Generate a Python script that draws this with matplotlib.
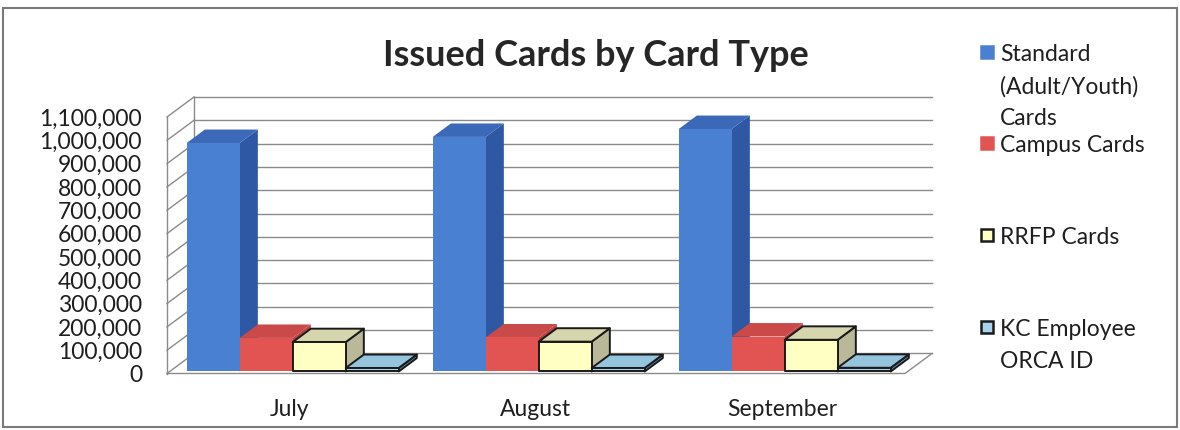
import matplotlib
matplotlib.use("Agg")
import matplotlib.pyplot as plt
from matplotlib.patches import Polygon, Rectangle
from matplotlib.ticker import FuncFormatter

# data
months = ["July", "August", "September"]
series = ["Standard\n(Adult/Youth)\nCards", "Campus Cards", "RRFP Cards", "KC Employee\nORCA ID"]
standard = [980000, 1006000, 1040000]
campus = [144000, 146000, 150000]
rrfp = [126000, 128000, 136000]
kc_employee = [15000, 15000, 16000]
values = [standard, campus, rrfp, kc_employee]

# face colours per series: front, top, side
front_cols = ["#4a80d2", "#e25452", "#ffffc4", "#a9d3ea"]
top_cols = ["#3c68b8", "#c94a48", "#d6d6ae", "#94c4de"]
side_cols = ["#2f58a4", "#b84240", "#b9b999", "#5f90ad"]
edge_cols = ["none", "none", "#1a1a1a", "#1a1a1a"]

YMAX = 1100000
DX, DY = 0.11, 86000      # depth of the floor in data units
F0, F1 = 0.1, 0.77        # front/back of the columns as depth fractions
BW = 0.2154               # column width

plt.rcParams["font.family"] = ["Lato", "DejaVu Sans"]

fig = plt.figure(figsize=(11.8, 4.3), dpi=100)
W, H = 1180, 430
ax = fig.add_axes([167 / W, (H - 373.5) / H, 738 / W, (373.5 - 117) / H])
ax.set_xlim(-0.5, 2.5)
ax.set_ylim(0, YMAX)
for s in ax.spines.values():
    s.set_visible(False)

grid_kw = dict(color="#8a8a8a", lw=1.0, clip_on=False, zorder=1)
x0, x1 = -0.5, 2.5
ticks = list(range(0, YMAX + 1, 100000))
for v in ticks:
    # back wall gridline and side wall diagonal
    ax.plot([x0 + DX, x1 + DX], [v + DY, v + DY], **grid_kw)
    ax.plot([x0, x0 + DX], [v, v + DY], **grid_kw)
ax.plot([x0, x0], [0, YMAX], **grid_kw)
ax.plot([x0 + DX, x0 + DX], [DY, YMAX + DY], **grid_kw)
# floor edges
ax.plot([x0, x1, x1 + DX], [0, 0, DY], **grid_kw)


def pt(x, v, d):
    return (x + d * DX, v + d * DY)


def column(x, v, k):
    xa, xb = x, x + BW
    ec = edge_cols[k]
    lw = 1.4 if ec != "none" else 0
    faces = [
        ([pt(xb, 0, F0), pt(xb, 0, F1), pt(xb, v, F1), pt(xb, v, F0)], side_cols[k]),
        ([pt(xa, v, F0), pt(xb, v, F0), pt(xb, v, F1), pt(xa, v, F1)], top_cols[k]),
        ([pt(xa, 0, F0), pt(xb, 0, F0), pt(xb, v, F0), pt(xa, v, F0)], front_cols[k]),
    ]
    for verts, fc in faces:
        ax.add_patch(Polygon(verts, closed=True, facecolor=fc, edgecolor=ec,
                             lw=lw, joinstyle="round", clip_on=False, zorder=3))


for i in range(len(months)):
    start = i - 2 * BW
    for k in range(len(values)):
        column(start + k * BW, values[k][i], k)

ax.set_yticks(ticks)
ax.yaxis.set_major_formatter(FuncFormatter(lambda v, p: f"{int(v):,}"))
ax.set_xticks(range(len(months)), months)
ax.tick_params(axis="y", length=0, pad=18, labelsize=16.5, labelcolor="#1e1e1e")
ax.tick_params(axis="x", length=0, pad=18, labelsize=16.5, labelcolor="#1e1e1e")

fig.text(596 / W, 1 - 55 / H, "Issued Cards by Card Type", ha="center", va="center",
         fontsize=26, fontweight="bold", color="#262626")

# legend
leg_rows = [52, 143, 235, 327]
for k, y in enumerate(leg_rows):
    fig.patches.append(Rectangle((981 / W, 1 - (y + 6) / H), 12 / W, 12 / H,
                                 transform=fig.transFigure, facecolor=front_cols[k],
                                 edgecolor=edge_cols[k] if edge_cols[k] != "none" else front_cols[k],
                                 lw=1.8))
    fig.text(1000 / W, 1 - (y - 8) / H, series[k], ha="left", va="top",
             fontsize=16.5, color="#1e1e1e", linespacing=1.62)

# outer frame
fig.patches.append(Rectangle((3 / W, 3 / H), 1174 / W, 419 / H, transform=fig.transFigure,
                             fill=False, edgecolor="#7a7a7a", lw=1.5))

fig.savefig("out.png", dpi=100, facecolor="white")
